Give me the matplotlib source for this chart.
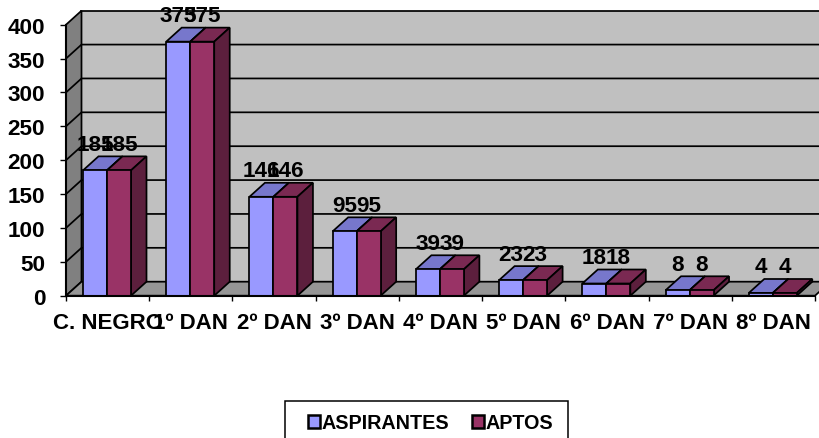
import numpy as np
import matplotlib
matplotlib.use("Agg")
import matplotlib.pyplot as plt
from matplotlib.patches import Polygon, Rectangle

categories = ["C. NEGRO", "1º DAN", "2º DAN", "3º DAN", "4º DAN", "5º DAN", "6º DAN", "7º DAN", "8º DAN"]
aspirantes = [185, 375, 146, 95, 39, 23, 18, 8, 4]
aptos = [185, 375, 146, 95, 39, 23, 18, 8, 4]
series_names = ["ASPIRANTES", "APTOS"]
y_ticks = [0, 50, 100, 150, 200, 250, 300, 350, 400]

W, H = 820, 439
plt.rcParams["font.family"] = ["Liberation Sans", "DejaVu Sans"]
plt.rcParams["font.weight"] = "bold"
FS = 16.2
FS_CAT = 16
FS_LEG = 14.2
LW = 1.25

fig = plt.figure(figsize=(W / 100, H / 100), dpi=100)
L, R, T, B = 66, 815, 25.7, 296.7
ax = fig.add_axes([L / W, 1 - B / H, (R - L) / W, (B - T) / H])
ax.set_xlim(0, len(categories))
ax.set_ylim(0, 400)
ax.patch.set_visible(False)

ux = (R - L) / len(categories)
uy = (B - T) / 400
dx = 15.5 / ux
dy = 14 / uy
nx = len(categories)

def poly(pts, fc, z, lw=LW):
    ax.add_patch(Polygon(pts, closed=True, facecolor=fc, edgecolor="black",
                         linewidth=lw, zorder=z, clip_on=False, joinstyle="miter"))

# walls and floor
poly([(dx, dy), (nx + dx, dy), (nx + dx, 400 + dy), (dx, 400 + dy)], "#C0C0C0", 1)
poly([(0, 0), (dx, dy), (dx, 400 + dy), (0, 400)], "#808080", 1)
poly([(0, 0), (nx, 0), (nx + dx, dy), (dx, dy)], "#969696", 1)
for v in y_ticks[1:-1]:
    ax.plot([0, dx, nx + dx], [v, v + dy, v + dy], color="black", lw=LW, zorder=2,
            clip_on=False, solid_capstyle="butt")

# bars
bar_w = 24 / ux
gap = 17 / ux
colors = {
    "a": ("#9999FF", "#7777CC", "#5C5C99"),
    "b": ("#993366", "#7A2952", "#5C1F3D"),
}
x0 = np.arange(nx) + gap
for i in range(nx):
    for key, vals, off in (("a", aspirantes, 0), ("b", aptos, 1)):
        xl = x0[i] + off * bar_w
        xr = xl + bar_w
        v = vals[i]
        front, top, side = colors[key]
        z = 3 + off
        poly([(xl, v), (xr, v), (xr + dx, v + dy), (xl + dx, v + dy)], top, z)
        poly([(xr, 0), (xr + dx, dy), (xr + dx, v + dy), (xr, v)], side, z)
        ax.bar(xl, v, width=bar_w, align="edge", color=front, edgecolor="black",
               linewidth=LW, zorder=z + 0.5, clip_on=False,
               label=series_names[off] if i == 0 else None)
        ax.text(xl + bar_w / 2, v + 26 / uy, str(v), ha="center", va="center",
                fontsize=FS, zorder=10, clip_on=False)

# axes
for s in ("top", "right"):
    ax.spines[s].set_visible(False)
for s in ("left", "bottom"):
    ax.spines[s].set_linewidth(1.5)
    ax.spines[s].set_zorder(6)
ax.set_yticks(y_ticks)
ax.set_xticks(np.arange(nx + 1))
ax.set_xticklabels([""] * (nx + 1))
ax.tick_params(axis="y", length=4.5, width=1, pad=10.5, labelsize=FS)
ax.tick_params(axis="x", length=3.5, width=1)
for i, c in enumerate(categories):
    ax.annotate(c, (i + 0.5, 0), xytext=(0, -26.5 * 0.72), textcoords="offset points",
                ha="center", va="center", fontsize=FS_CAT, annotation_clip=False)

# legend
fig.add_artist(Rectangle((285.5 / W, 1 - 446 / H), 283 / W, 44 / H, transform=fig.transFigure,
                         facecolor="white", edgecolor="black", linewidth=1.1))
leg = fig.legend(loc="center", bbox_to_anchor=(430.5 / W, 1 - 424 / H), ncol=2, fontsize=FS_LEG,
                 frameon=False, handlelength=0.6, handleheight=0.6, handletextpad=0.1,
                 columnspacing=1.15, borderpad=0, borderaxespad=0)
for h in leg.legend_handles:
    h.set_linewidth(1.8)

fig.savefig("out.png", dpi=100)
